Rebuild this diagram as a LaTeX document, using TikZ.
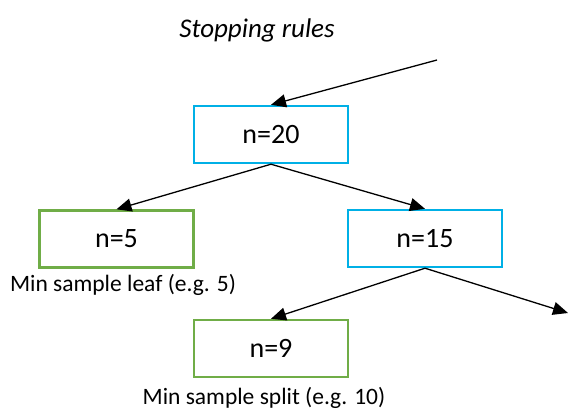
\documentclass[tikz,border=0pt]{standalone}
\usepackage{fontspec}
\setmainfont{Carlito}
\usetikzlibrary{arrows.meta}
\definecolor{boxblue}{RGB}{0,176,230}
\definecolor{boxgreen}{RGB}{112,173,71}
\tikzset{
  treebox/.style={draw, line width=2.4pt, minimum width=154pt, minimum height=57pt, inner sep=0pt, font=\fontsize{28}{32}\selectfont},
  bluebox/.style={treebox, draw=boxblue},
  greenbox/.style={treebox, draw=boxgreen},
  conn/.style={line width=1.3pt, -{Triangle[length=15pt,width=13pt]}},
  note/.style={font=\fontsize{23.5}{27}\selectfont, inner sep=0pt}
}
\begin{document}
\begin{tikzpicture}[x=1pt,y=-1pt]
\useasboundingbox (0,0) rectangle (568,413);
\node[font=\fontsize{27}{31}\selectfont\itshape, inner sep=0pt] (title) at (257,30) {Stopping rules};
\node[bluebox] (n20) at (271,134.5) {n=20};
\node[greenbox] (n5) at (116.5,239) {n=5};
\node[bluebox] (n15) at (425,238.5) {n=15};
\node[greenbox] (n9) at (271,348.5) {n=9};
\node[note] (leaf) at (123,285) {Min sample leaf (e.g. 5)};
\node[note] (split) at (264,398) {Min sample split (e.g. 10)};
\coordinate (in) at (437,60);
\coordinate (out) at (568,313);
\draw[conn] (in) -- (n20.north);
\draw[conn] (n20.south) -- (n5.north);
\draw[conn] (n20.south) -- (n15.north);
\draw[conn] (n15.south) -- (n9.north);
\draw[conn] (n15.south) -- (out);
\end{tikzpicture}
\end{document}
